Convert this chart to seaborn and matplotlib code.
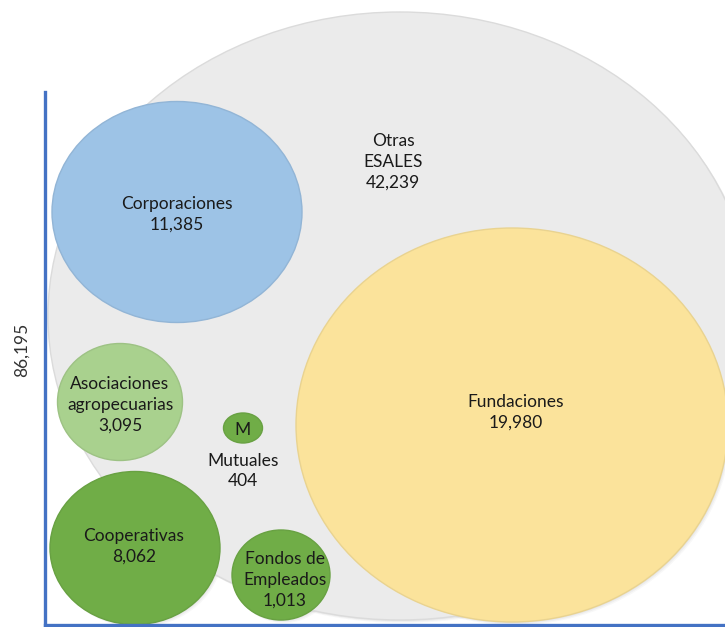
import numpy as np
import pandas as pd
import seaborn as sns
import matplotlib
matplotlib.use("Agg")
import matplotlib.pyplot as plt
from matplotlib.path import Path
from matplotlib.transforms import Affine2D, ScaledTranslation
from matplotlib.colors import to_rgb

# ---- data ----
categories = ["Total", "Corporaciones", "Fundaciones", "Asociaciones agropecuarias",
              "Mutuales", "Cooperativas", "Fondos de Empleados"]
values = [86195, 11385, 19980, 3095, 404, 8062, 1013]
other_label = "Otras\nESALES"
other_value = 42239
total_label = "86,195"

# ---- layout (pixel-space positions / sizes of the bubbles) ----
cx = [400, 177, 512, 120, 243, 135, 281]
cy = [316, 212, 425, 402, 428, 548, 575]
w_px = [704, 250, 432, 125, 39, 170, 98]
h_px = [608, 221, 394, 117, 30, 153, 90]
colors = ["#EBEBEB", "#9DC3E6", "#FBE39B", "#A9D18E", "#70AD47", "#70AD47", "#70AD47"]

DPI = 100
sns.set_theme(style="white")
plt.rcParams["font.family"] = ["Lato", "DejaVu Sans"]

fig = plt.figure(figsize=(7.25, 6.27), dpi=DPI)
ax = fig.add_axes([45 / 725, 2 / 627, 680 / 725, 625 / 627])
ax.set_xlim(45, 725)
ax.set_ylim(625, 0)

df = pd.DataFrame({"x": cx, "y": cy, "cat": categories})

markers = {}
sizes = {}
for c, w, h in zip(categories, w_px, h_px):
    markers[c] = Path.unit_circle().transformed(Affine2D().scale(w, h))
    sizes[c] = (max(w, h) * 72 / DPI) ** 2
palette = dict(zip(categories, colors))
edges = [tuple(np.array(to_rgb(c)) * 0.93) for c in colors]

# soft shadow
for dx, a in [(3, 0.04), (2, 0.05), (1, 0.06)]:
    sh = ax.transData + ScaledTranslation(dx / DPI, -dx / DPI, fig.dpi_scale_trans)
    sns.scatterplot(data=df, x="x", y="y", style="cat", size="cat", markers=markers,
                    sizes=sizes, color=(0.3, 0.3, 0.3), alpha=a, linewidth=0,
                    legend=False, ax=ax, transform=sh, clip_on=False)

sns.scatterplot(data=df, x="x", y="y", hue="cat", style="cat", size="cat",
                markers=markers, sizes=sizes, palette=palette, linewidth=1.0,
                edgecolor=edges, legend=False, ax=ax, clip_on=False)

def fmt(v):
    return f"{v:,}"

txt = dict(ha="center", va="center", fontsize=12.5, color="#1A1A1A",
           linespacing=1.38, clip_on=False)
ax.text(393, 162, f"{other_label}\n{fmt(other_value)}", **txt)
ax.text(177, 214, f"{categories[1]}\n{fmt(values[1])}", **txt)
ax.text(516, 412, f"{categories[2]}\n{fmt(values[2])}", **txt)
ax.text(120, 405, "Asociaciones\nagropecuarias\n" + fmt(values[3]), **txt)
ax.text(243, 430, "M", **txt)
ax.text(243, 471, f"{categories[4]}\n{fmt(values[4])}", **txt)
ax.text(134, 546, f"{categories[5]}\n{fmt(values[5])}", **txt)
ax.text(285, 580, "Fondos de\nEmpleados\n" + fmt(values[6]), **txt)

fig.text(22 / 725, 1 - 350 / 627, total_label, rotation=90, ha="center", va="center",
         fontsize=12.5, color="#333333")

ax.set_xlabel("")
ax.set_ylabel("")
ax.set_xticks([])
ax.set_yticks([])
for s in ["top", "right"]:
    ax.spines[s].set_visible(False)
for s in ["left", "bottom"]:
    ax.spines[s].set_color("#4472C4")
    ax.spines[s].set_linewidth(2.4)
    ax.spines[s].set_zorder(5)
ax.spines["left"].set_bounds(625, 92)
ax.patch.set_alpha(0)

fig.savefig("out.png", dpi=DPI, facecolor="white")
